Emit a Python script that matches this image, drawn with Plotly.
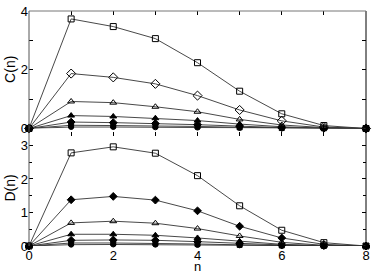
import plotly.graph_objects as go

n = [0, 1, 2, 3, 4, 5, 6, 7, 8]

# C(n) series (top panel)
c_sq_open = [0, 3.73, 3.47, 3.06, 2.24, 1.27, 0.50, 0.10, 0]
c_di_open = [0, 1.87, 1.74, 1.52, 1.12, 0.63, 0.26, 0.05, 0]
c_tr_open = [0, 0.92, 0.88, 0.74, 0.57, 0.31, 0.12, 0.03, 0]
c_tr_fill = [0, 0.44, 0.41, 0.35, 0.27, 0.15, 0.06, 0.01, 0]
c_di_fill = [0, 0.22, 0.20, 0.17, 0.13, 0.08, 0.03, 0.01, 0]
c_sq_fill = [0, 0.11, 0.10, 0.09, 0.07, 0.04, 0.015, 0.005, 0]
c_ci_fill = [0, 0.05, 0.05, 0.04, 0.03, 0.02, 0.01, 0.0, 0]

# D(n) series (bottom panel)
d_sq_open = [0, 2.78, 2.96, 2.77, 2.10, 1.20, 0.47, 0.10, 0]
d_di_fill = [0, 1.38, 1.48, 1.37, 1.05, 0.59, 0.24, 0.05, 0]
d_tr_open = [0, 0.69, 0.74, 0.68, 0.52, 0.30, 0.11, 0.02, 0]
d_tr_fill = [0, 0.35, 0.35, 0.32, 0.24, 0.14, 0.05, 0.01, 0]
d_di_fill2 = [0, 0.17, 0.18, 0.17, 0.13, 0.07, 0.03, 0.01, 0]
d_sq_fill = [0, 0.09, 0.09, 0.08, 0.06, 0.035, 0.015, 0.0, 0]
d_ci_fill = [0, 0.04, 0.045, 0.04, 0.03, 0.02, 0.01, 0.0, 0]

x_ticks = [0, 2, 4, 6, 8]

LINE = "#333333"
FONT = "Liberation Sans"

top_series = [
    (c_sq_open, "square-open", 6),
    (c_di_open, "diamond-open", 7),
    (c_tr_open, "triangle-up-open", 6),
    (c_tr_fill, "triangle-up", 6),
    (c_di_fill, "diamond", 6),
    (c_sq_fill, "square", 5),
    (c_ci_fill, "circle", 5),
]
bot_series = [
    (d_sq_open, "square-open", 6),
    (d_di_fill, "diamond", 6),
    (d_tr_open, "triangle-up-open", 6),
    (d_tr_fill, "triangle-up", 6),
    (d_di_fill2, "diamond", 6),
    (d_sq_fill, "square", 5),
    (d_ci_fill, "circle", 5),
]

fig = go.Figure()
for vals, sym, sz in reversed(top_series):
    fig.add_trace(go.Scatter(
        x=n, y=vals, mode="lines+markers", xaxis="x2", yaxis="y2",
        line=dict(color=LINE, width=0.9),
        marker=dict(symbol=sym, size=sz, color="black", line=dict(color="black", width=1)),
        showlegend=False, cliponaxis=False, hoverinfo="skip"))
for vals, sym, sz in reversed(bot_series):
    fig.add_trace(go.Scatter(
        x=n, y=vals, mode="lines+markers", xaxis="x", yaxis="y",
        line=dict(color=LINE, width=0.9),
        marker=dict(symbol=sym, size=sz, color="black", line=dict(color="black", width=1)),
        showlegend=False, cliponaxis=False, hoverinfo="skip"))

tickfont = dict(family=FONT, size=13, color="black")
common_x = dict(range=[0, 8], tickvals=x_ticks, ticks="inside", ticklen=4, tickcolor="black",
                minor=dict(dtick=1, ticks="inside", ticklen=4, tickcolor="black"),
                showgrid=False, zeroline=False, showline=False, mirror="ticks",
                ticklabeloverflow="allow")

fig.update_layout(
    width=374, height=272,
    margin=dict(l=29, r=4, t=6, b=26),
    paper_bgcolor="white", plot_bgcolor="white",
    font=dict(family=FONT, size=13, color="black"),
    xaxis=dict(anchor="y", domain=[0, 1], tickfont=tickfont, ticklabelstandoff=0, **common_x),
    xaxis2=dict(anchor="y2", domain=[0, 1], showticklabels=False, **common_x),
    yaxis=dict(anchor="x", domain=[0, 0.4833], range=[0, 3.39], dtick=1, tick0=0,
               ticks="inside", ticklen=4, tickcolor="black",
               minor=dict(dtick=0.5, ticks="inside", ticklen=3, tickcolor="black"),
               tickfont=tickfont, showgrid=False, zeroline=False, showline=False, mirror="ticks",
               ticklabeloverflow="allow"),
    yaxis2=dict(anchor="x2", domain=[0.5, 1], range=[0, 4], dtick=2, tick0=0,
                ticks="inside", ticklen=4, tickcolor="black",
                minor=dict(dtick=1, ticks="inside", ticklen=4, tickcolor="black"),
                tickfont=tickfont, showgrid=False, zeroline=False, showline=False, mirror="ticks",
                ticklabeloverflow="allow"),
    shapes=[
        dict(type="line", xref="paper", yref="paper", x0=0, x1=0, y0=0, y1=1,
             line=dict(color="#555", width=1)),
        dict(type="line", xref="paper", yref="paper", x0=1, x1=1, y0=0, y1=1,
             line=dict(color="black", width=1)),
        dict(type="line", xref="paper", yref="paper", x0=0, x1=1, y0=1, y1=1,
             line=dict(color="#777", width=1)),
    ],
    annotations=[
        dict(text="C(n)", xref="paper", yref="paper", x=-0.056, y=0.75, textangle=-90,
             showarrow=False, font=dict(family=FONT, size=14, color="black"),
             xanchor="center", yanchor="middle"),
        dict(text="D(n)", xref="paper", yref="paper", x=-0.056, y=0.245, textangle=-90,
             showarrow=False, font=dict(family=FONT, size=14, color="black"),
             xanchor="center", yanchor="middle"),
        dict(text="n", xref="paper", yref="paper", x=0.5, y=-0.087,
             showarrow=False, font=dict(family=FONT, size=13, color="black"),
             xanchor="center", yanchor="middle"),
    ],
)

fig.write_html("out.html", config={"displayModeBar": False},
               post_script="document.body.style.margin='0';document.body.style.padding='0';")
